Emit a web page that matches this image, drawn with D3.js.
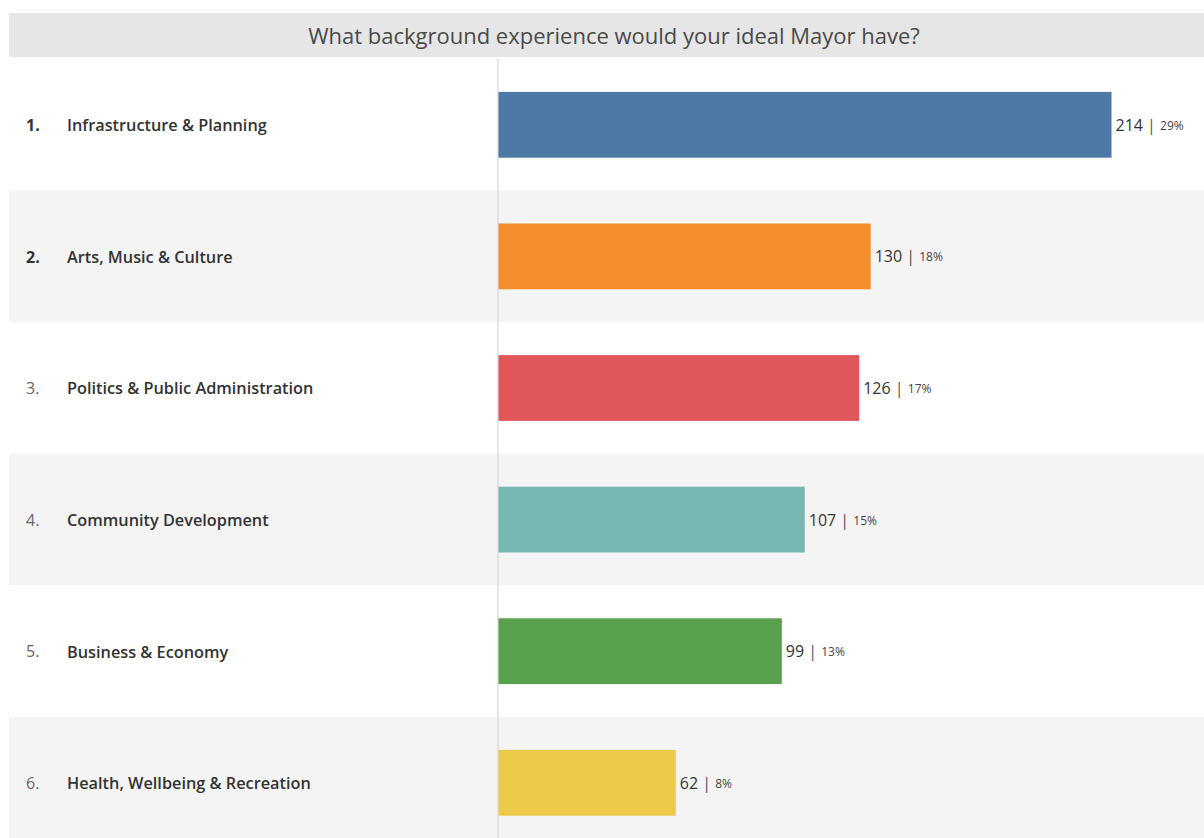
<!DOCTYPE html>
<html><head><meta charset="utf-8">
<script src="https://cdn.jsdelivr.net/npm/d3@7"></script>
<style>body{margin:0;background:#fff;}svg{display:block;}</style>
</head><body>
<svg id="c" width="1204" height="838"></svg>
<script>
const title = "What background experience would your ideal Mayor have?";
const ranks = ["1.", "2.", "3.", "4.", "5.", "6."];
const categories = ["Infrastructure & Planning", "Arts, Music & Culture", "Politics & Public Administration", "Community Development", "Business & Economy", "Health, Wellbeing & Recreation"];
const counts = [214, 130, 126, 107, 99, 62];
const percents = ["29%", "18%", "17%", "15%", "13%", "8%"];
const colors = ["#4e79a7", "#f28e2b", "#e15759", "#76b7b2", "#59a14f", "#edc948"];

const W = 1204, H = 838;
const svg = d3.select("#c");
const padL = 9, padT = 59, rowH = 131.6;
const x0 = 498;

// title bar
svg.append("rect").attr("x", padL).attr("y", 13).attr("width", W - padL).attr("height", 44).attr("fill", "#e6e6e6");
svg.append("text").attr("x", 614).attr("y", 38).attr("text-anchor", "middle").attr("dominant-baseline", "middle")
  .attr("font-family", "Open Sans, sans-serif").attr("font-size", 22).attr("fill", "#4a4a4a").text(title);

const y = d3.scaleBand().domain(categories).range([padT, padT + rowH * categories.length]).paddingInner(0).paddingOuter(0);
const x = d3.scaleLinear().domain([0, 214]).range([x0, 1111.5]);

// row backgrounds
svg.selectAll("rect.row").data(categories).join("rect").attr("class", "row")
  .attr("x", padL).attr("y", d => y(d)).attr("width", W - padL).attr("height", y.bandwidth())
  .attr("fill", (d, i) => i % 2 ? "#f4f4f4" : "#ffffff");

// zero line
svg.append("line").attr("x1", x0).attr("x2", x0).attr("y1", padT).attr("y2", H).attr("stroke", "#dcdcdc").attr("stroke-width", 1.5);

const bh = y.bandwidth() * 0.5;
svg.selectAll("rect.bar").data(categories).join("rect").attr("class", "bar")
  .attr("x", x(0) + 0.5).attr("y", d => y(d) + (y.bandwidth() - bh) / 2)
  .attr("width", (d, i) => x(counts[i]) - x(0) - 0.5).attr("height", bh)
  .attr("fill", (d, i) => colors[i]);

const ty = d => y(d) + y.bandwidth() / 2 + 2;

// rank numbers
svg.selectAll("text.rank").data(ranks).join("text").attr("class", "rank")
  .attr("x", 26).attr("y", (d, i) => ty(categories[i])).attr("dominant-baseline", "middle")
  .attr("font-family", "Open Sans, sans-serif").attr("font-size", 16)
  .attr("font-weight", (d, i) => i < 2 ? 700 : 400)
  .attr("fill", (d, i) => i < 2 ? "#333" : "#666").text(d => d);

// category labels
svg.selectAll("text.cat").data(categories).join("text").attr("class", "cat")
  .attr("x", 67).attr("y", d => ty(d)).attr("dominant-baseline", "middle")
  .attr("font-family", "Open Sans, sans-serif").attr("font-size", 16.3).attr("font-weight", 600)
  .attr("fill", "#333").text(d => d);

// value labels
const vl = svg.selectAll("text.val").data(categories).join("text").attr("class", "val")
  .attr("x", (d, i) => x(counts[i]) + 4).attr("y", d => ty(d)).attr("dominant-baseline", "middle")
  .attr("font-family", "Open Sans, sans-serif").attr("fill", "#333");
vl.append("tspan").attr("font-size", 16).text((d, i) => counts[i] + " ");
vl.append("tspan").attr("font-size", 16).attr("fill", "#555").text("| ");
vl.append("tspan").attr("font-size", 12).attr("fill", "#444").text((d, i) => percents[i]);
</script>
</body></html>
